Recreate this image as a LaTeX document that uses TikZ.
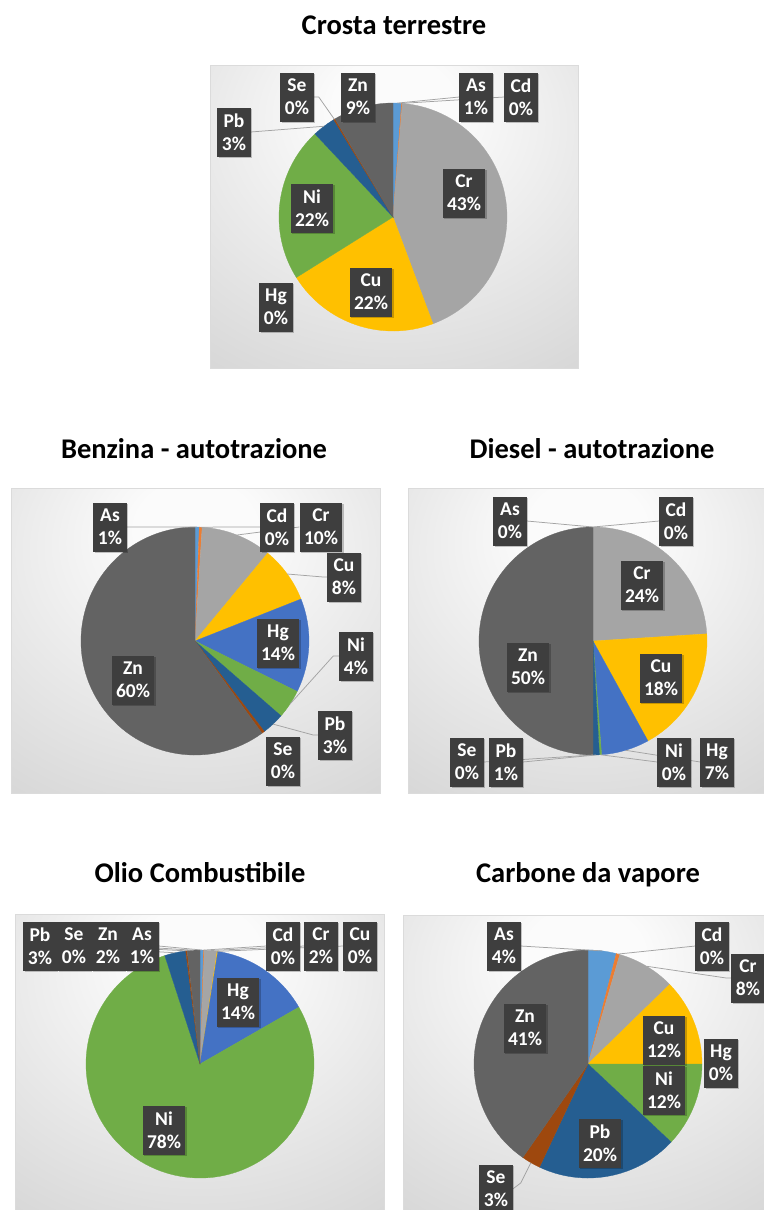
\documentclass[tikz,border=0pt]{standalone}
\usepackage{fontspec}
\setmainfont{Carlito}
\usetikzlibrary{calc,shadows}
\definecolor{cAs}{HTML}{5B9BD5}
\definecolor{cCd}{HTML}{ED7D31}
\definecolor{cCr}{HTML}{A5A5A5}
\definecolor{cCu}{HTML}{FFC000}
\definecolor{cHg}{HTML}{4472C4}
\definecolor{cNi}{HTML}{70AD47}
\definecolor{cPb}{HTML}{255E91}
\definecolor{cSe}{HTML}{9E480E}
\definecolor{cZn}{HTML}{636363}
\definecolor{lblc}{HTML}{3E3E3E}
\definecolor{leadc}{HTML}{A3A3A3}
\definecolor{pw0}{gray}{0.985}
\definecolor{pw1}{gray}{0.85}
\definecolor{pw2}{gray}{0.76}
\definecolor{pborder}{gray}{0.86}
\pgfdeclareradialshading{panelshade}{\pgfpoint{0bp}{20bp}}{color(0bp)=(pw0); color(8bp)=(pw0); color(42bp)=(pw1); color(64bp)=(pw2); color(90bp)=(pw2)}
\pgfdeclarelayer{bg}
\pgfdeclarelayer{lines}
\pgfsetlayers{bg,lines,main}
\newcommand\drawpie[2]{%
  \gdef\pcum{0}%
  \foreach \v/\col in {#2}{%
    \pgfmathsetmacro\pa{3.6*\pcum-90}%
    \pgfmathsetmacro\pb{3.6*(\pcum+\v)-90}%
    \ifdim\v pt>0pt
      \filldraw[fill=\col,draw=\col,line width=0.3pt] (#1) -- ($(#1)+(\pa:114)$) arc[start angle=\pa, end angle=\pb, radius=114] -- cycle;
    \fi
    \pgfmathsetmacro\pn{\pcum+\v}%
    \xdef\pcum{\pn}%
  }%
}
\newcommand\edgept[3]{\coordinate (#1) at ($(#2)+({3.6*#3-90}:114)$);}
\begin{document}
\begin{tikzpicture}[x=1pt,y=-1pt,
  title/.style={font=\fontsize{28.5}{34}\selectfont\bfseries, inner sep=0pt, anchor=base},
  lbl/.style={fill=lblc, text=white, font=\fontsize{19.5}{23}\selectfont\bfseries, align=center,
    minimum height=49, inner xsep=4.5pt, inner ysep=0pt,
    drop shadow={shadow xshift=1.2pt, shadow yshift=-1.2pt, fill=black, opacity=0.22}},
  leader/.style={draw=leadc, line width=0.75pt},
  panel/.style={draw=pborder, line width=0.8pt}]
\useasboundingbox (0,0) rectangle (763,1210);

% ---------- titles
\node[title] (t1) at (394,34) {Crosta terrestre};
\node[title] (t2) at (194,458) {Benzina - autotrazione};
\node[title] (t3) at (592,458) {Diesel - autotrazione};
\node[title] (t4) at (200,882) {Olio Combustibile};
\node[title] (t5) at (588,882) {Carbone da vapore};

% ---------- centres
\coordinate (c1) at (393,217);
\coordinate (c2) at (195,641);
\coordinate (c3) at (593,641);
\coordinate (c4) at (200,1064);
\coordinate (c5) at (588,1064);

\begin{pgfonlayer}{bg}
\fill[white] (0,0) rectangle (763,1210);
\shade[shading=panelshade] (210,65) rectangle (578,368);
\draw[panel] (210,65) rectangle (578,368);
\shade[shading=panelshade] (11,488) rectangle (380,793);
\draw[panel] (11,488) rectangle (380,793);
\shade[shading=panelshade] (408,488) rectangle (766,793);
\draw[panel] (408,488) rectangle (766,793);
\shade[shading=panelshade] (15,914) rectangle (384,1214);
\draw[panel] (15,914) rectangle (384,1214);
\shade[shading=panelshade] (403,915) rectangle (766,1214);
\draw[panel] (403,915) rectangle (766,1214);

\drawpie{c1}{1.2/cAs,0.1/cCd,43/cCr,21.8/cCu,0/cHg,21.9/cNi,3.3/cPb,0.2/cSe,8.5/cZn}
\drawpie{c2}{0.6/cAs,0.4/cCd,10/cCr,8/cCu,13.3/cHg,4.1/cNi,3.2/cPb,0.4/cSe,60/cZn}
\drawpie{c3}{0/cAs,0/cCd,24/cCr,18/cCu,6.8/cHg,0.3/cNi,0.9/cPb,0/cSe,50/cZn}
\drawpie{c4}{0.5/cAs,0.1/cCd,1.8/cCr,0.1/cCu,14.2/cHg,78.3/cNi,3/cPb,0.2/cSe,1.8/cZn}
\drawpie{c5}{4/cAs,0.5/cCd,8.2/cCr,12.3/cCu,0/cHg,12/cNi,20/cPb,2.7/cSe,40.3/cZn}
\end{pgfonlayer}

% ---------- leader end points
\edgept{e1As}{c1}{0.6}
\edgept{e1Cd}{c1}{1.25}
\edgept{e1Pb}{c1}{89.65}
\edgept{e1Se}{c1}{91.4}
\edgept{e2As}{c2}{0.3}
\edgept{e2Cd}{c2}{0.8}
\edgept{e2Cr}{c2}{6}
\edgept{e2Cu}{c2}{15}
\edgept{e2Ni}{c2}{34.35}
\edgept{e2Pb}{c2}{38}
\edgept{e3As}{c3}{0}
\edgept{e3Cd}{c3}{0}
\edgept{e3Hg}{c3}{45.4}
\edgept{e3Ni}{c3}{48.95}
\edgept{e3Pb}{c3}{49.55}
\edgept{e3Se}{c3}{50}
\edgept{e4Pb}{c4}{96.5}
\edgept{e4Se}{c4}{98.1}
\edgept{e4Zn}{c4}{99.1}
\edgept{e4As}{c4}{0.25}
\edgept{e4Cd}{c4}{0.55}
\edgept{e4Cr}{c4}{1.5}
\edgept{e4Cu}{c4}{2.45}
\edgept{e5As}{c5}{2}
\edgept{e5Cd}{c5}{4.25}
\edgept{e5Cr}{c5}{8.6}
\edgept{e5Se}{c5}{58.35}

% ---------- chart 1 labels
\node[lbl] (l1Se) at (297,97) {Se\\0\%};
\node[lbl] (l1Zn) at (358,97) {Zn\\9\%};
\node[lbl] (l1As) at (476,97) {As\\1\%};
\node[lbl] (l1Cd) at (521,97) {Cd\\0\%};
\node[lbl] (l1Pb) at (234,132) {Pb\\3\%};
\node[lbl] (l1Cr) at (464,193) {Cr\\43\%};
\node[lbl] (l1Ni) at (312,208) {Ni\\22\%};
\node[lbl] (l1Cu) at (371,292) {Cu\\22\%};
\node[lbl] (l1Hg) at (276,307) {Hg\\0\%};

% ---------- chart 2 labels
\node[lbl] (l2As) at (110,527) {As\\1\%};
\node[lbl] (l2Cd) at (277,527) {Cd\\0\%};
\node[lbl] (l2Cr) at (321,527) {Cr\\10\%};
\node[lbl] (l2Cu) at (344,577) {Cu\\8\%};
\node[lbl] (l2Hg) at (278,643) {Hg\\14\%};
\node[lbl] (l2Ni) at (356,656) {Ni\\4\%};
\node[lbl] (l2Pb) at (335,735) {Pb\\3\%};
\node[lbl] (l2Se) at (283,761) {Se\\0\%};
\node[lbl] (l2Zn) at (133,680) {Zn\\60\%};

% ---------- chart 3 labels
\node[lbl] (l3As) at (510,521) {As\\0\%};
\node[lbl] (l3Cd) at (676,521) {Cd\\0\%};
\node[lbl] (l3Cr) at (642,585) {Cr\\24\%};
\node[lbl] (l3Zn) at (528,667) {Zn\\50\%};
\node[lbl] (l3Cu) at (661,678) {Cu\\18\%};
\node[lbl] (l3Se) at (467,762) {Se\\0\%};
\node[lbl] (l3Pb) at (506,762) {Pb\\1\%};
\node[lbl] (l3Ni) at (674,762) {Ni\\0\%};
\node[lbl] (l3Hg) at (717,762) {Hg\\7\%};

% ---------- chart 4 labels
\node[lbl] (l4Pb) at (40,946) {Pb\\3\%};
\node[lbl] (l4Se) at (74,946) {Se\\0\%};
\node[lbl] (l4Zn) at (108,946) {Zn\\2\%};
\node[lbl] (l4As) at (142,946) {As\\1\%};
\node[lbl] (l4Cd) at (283,946) {Cd\\0\%};
\node[lbl] (l4Cr) at (321,946) {Cr\\2\%};
\node[lbl] (l4Cu) at (360,946) {Cu\\0\%};
\node[lbl] (l4Hg) at (238,1002) {Hg\\14\%};
\node[lbl] (l4Ni) at (164,1130) {Ni\\78\%};

% ---------- chart 5 labels
\node[lbl] (l5As) at (504,946) {As\\4\%};
\node[lbl] (l5Cd) at (712,946) {Cd\\0\%};
\node[lbl] (l5Cr) at (748,978) {Cr\\8\%};
\node[lbl] (l5Cu) at (664,1040) {Cu\\12\%};
\node[lbl] (l5Hg) at (721,1063) {Hg\\0\%};
\node[lbl] (l5Ni) at (664,1090) {Ni\\12\%};
\node[lbl] (l5Zn) at (525,1028) {Zn\\41\%};
\node[lbl] (l5Pb) at (600,1143) {Pb\\20\%};
\node[lbl] (l5Se) at (496,1189) {Se\\3\%};

% ---------- leader lines
\begin{pgfonlayer}{lines}
\draw[leader] (l1As.west) -- (e1As);
\draw[leader] (l1Cd.west) -- (e1Cd);
\draw[leader] (l1Pb.east) -- (e1Pb);
\draw[leader] (l1Se.east) -- ++(5,0) -- (e1Se);

\draw[leader] (l2As.east) -- (e2As);
\draw[leader] (l2Cd.west) -- (e2Cd);
\draw[leader] (l2Cr.west) -- (e2Cr);
\draw[leader] (l2Cu.west) -- ++(-4,0) -- (e2Cu);
\draw[leader] (l2Ni.west) -- ++(-6,0) -- (e2Ni);
\draw[leader] (l2Pb.west) -- ++(-5,0) -- (e2Pb);

\draw[leader] (l3As.east) -- (e3As);
\draw[leader] (l3Cd.west) -- (e3Cd);
\draw[leader] (l3Se.east) -- (e3Se);
\draw[leader] (l3Pb.east) -- (e3Pb);
\draw[leader] (l3Ni.west) -- (e3Ni);
\draw[leader] (l3Hg.west) -- (e3Hg);

\draw[leader] (l4Pb.east) -- (e4Pb);
\draw[leader] (l4Se.east) -- (e4Se);
\draw[leader] (l4Zn.east) -- (e4Zn);
\draw[leader] (l4As.east) -- (e4As);
\draw[leader] (l4Cd.west) -- (e4Cd);
\draw[leader] (l4Cr.west) -- (e4Cr);
\draw[leader] (l4Cu.west) -- (e4Cu);

\draw[leader] (l5As.east) -- (e5As);
\draw[leader] (l5Cd.west) -- (e5Cd);
\draw[leader] (l5Cr.west) -- ++(-5,0) -- (e5Cr);
\draw[leader] (l5Se.east) -- ++(8,-6) -- (e5Se);
\end{pgfonlayer}
\end{tikzpicture}
\end{document}
